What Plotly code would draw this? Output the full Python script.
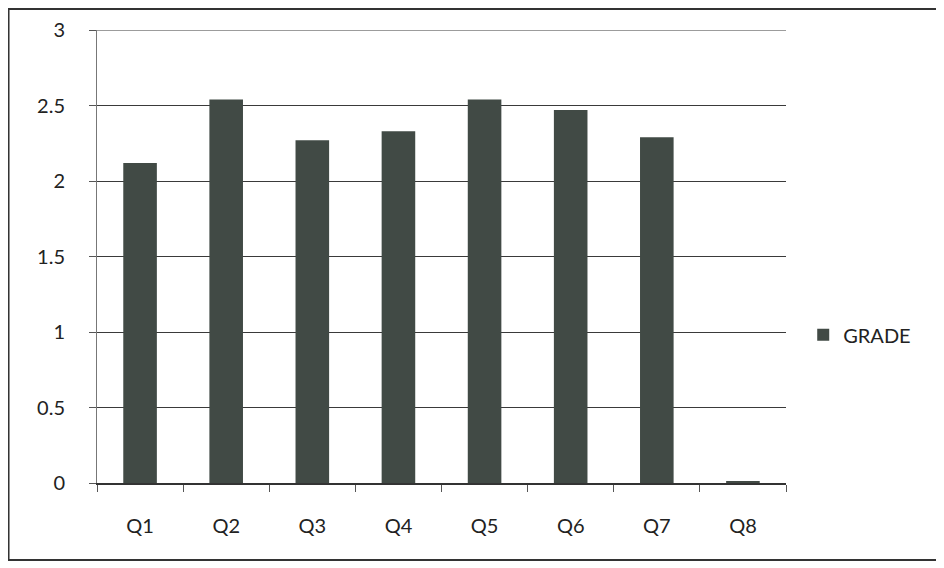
import plotly.graph_objects as go

# Data
questions = ["Q1", "Q2", "Q3", "Q4", "Q5", "Q6", "Q7", "Q8"]
grade = [2.12, 2.54, 2.27, 2.33, 2.54, 2.47, 2.29, 0.01]
y_ticks = [0, 0.5, 1, 1.5, 2, 2.5, 3]
y_labels = ["0", "0.5", "1", "1.5", "2", "2.5", "3"]

fig = go.Figure()
fig.add_trace(go.Bar(
    x=questions, y=grade, name="GRADE",
    marker=dict(color="#414a45", line=dict(width=0)),
))

# page body adds 8px offset, margins compensate
fig.update_layout(
    width=944, height=568,
    margin=dict(l=89, r=166, t=22, b=93),
    paper_bgcolor="white", plot_bgcolor="white",
    font=dict(family="Lato, Open Sans, sans-serif", size=20, color="#222"),
    bargap=0.61,
    showlegend=True,
    legend=dict(x=1.025, y=0.327, xanchor="left", yanchor="middle",
                font=dict(size=20), itemsizing="constant"),
)

fig.update_yaxes(
    range=[0, 3], tickvals=y_ticks, ticktext=y_labels,
    showgrid=True, gridcolor="#3a3a3a", gridwidth=1,
    showline=True, linecolor="#777", linewidth=1,
    ticks="outside", ticklen=7, tickcolor="#555",
    zeroline=False, ticklabelstandoff=20, automargin=False,
)
fig.update_xaxes(
    showline=True, linecolor="#333", linewidth=1.5,
    ticks="outside", ticklen=7, tickcolor="#555", tickson="boundaries",
    showgrid=False, ticklabelstandoff=24, automargin=False,
)

# top gridline at 3
fig.add_shape(type="line", xref="paper", yref="y", x0=0, x1=1, y0=3, y1=3,
              line=dict(color="#3a3a3a", width=1))

# outer chart border
fig.add_shape(type="rect", xref="paper", yref="paper",
              x0=-0.1284, x1=1.2235, y0=-0.17, y1=1.0464,
              line=dict(color="#333", width=2))

fig.write_html("out.html")
